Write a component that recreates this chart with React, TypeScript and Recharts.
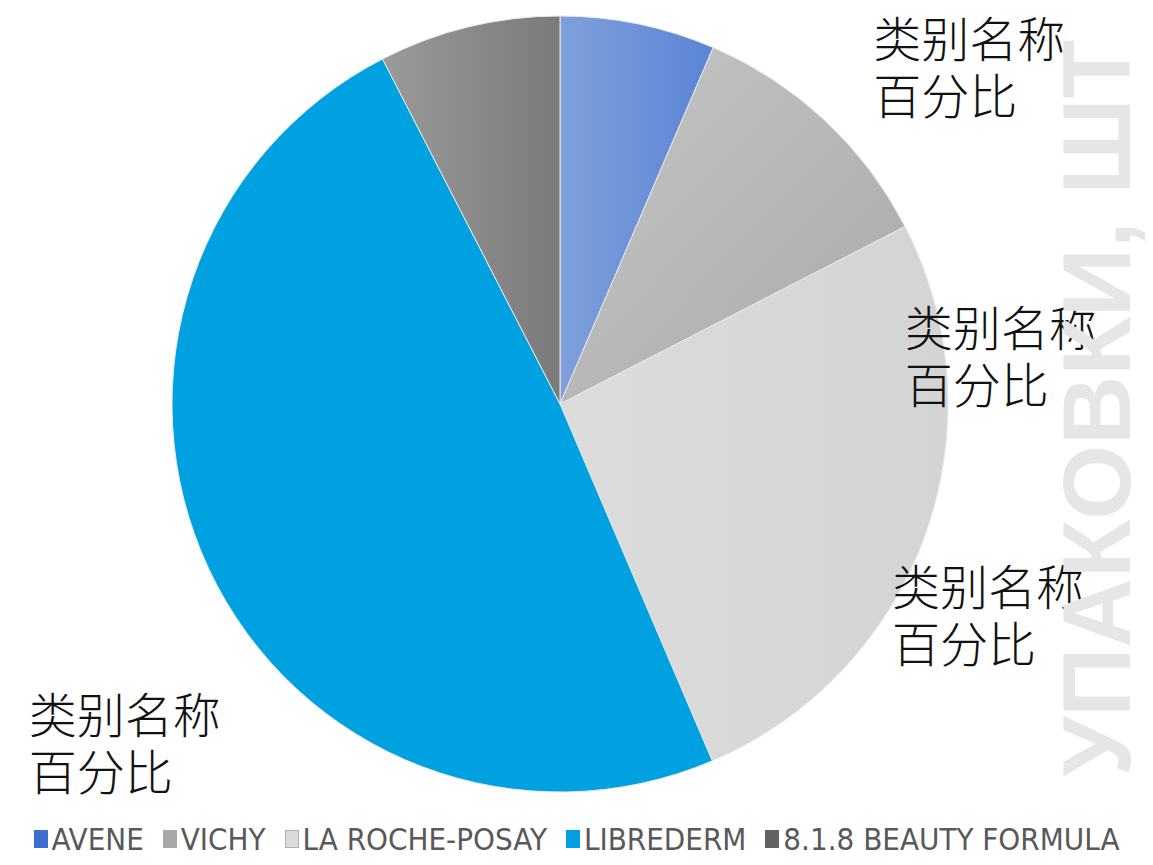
import React from "react";
import { PieChart, Pie, Cell, Legend } from "recharts";

const categories = ["AVENE", "VICHY", "LA ROCHE-POSAY", "LIBREDERM", "8.1.8 BEAUTY FORMULA"];
const shares = [6.46, 10.98, 26.14, 48.86, 7.56];
const labelLine1 = "类别名称";
const labelLine2 = "百分比";
const watermark = "УПАКОВКИ, ШТ";

const legendColors = ["#3d6fd2", "#a8a8a8", "#dadada", "#00a0e0", "#626262"];
const gradStops: [string, string][] = [
  ["#7fa0dc", "#5b84d6"],
  ["#c6c6c6", "#a9a9a9"],
  ["#dcdcdc", "#d4d4d4"],
  ["#00a1e0", "#00a1e0"],
  ["#9a9a9a", "#7a7a7a"],
];
// label placement offsets relative to the slice's outer-arc midpoint
const labelOffsets: ([number, number] | null)[] = [
  [235, 12],
  [80, 205],
  [-33, 48],
  [-180, 143],
  null,
];

const data = categories.map((name, i) => ({ name, value: shares[i] }));

const RAD = Math.PI / 180;

const renderLabel = (props: any) => {
  const { cx, cy, midAngle, outerRadius, index } = props;
  const off = labelOffsets[index];
  if (!off) return null;
  const x0 = cx + outerRadius * Math.cos(-midAngle * RAD);
  const y0 = cy + outerRadius * Math.sin(-midAngle * RAD);
  const x = x0 + off[0];
  const y = y0 + off[1];
  return (
    <text
      x={x}
      y={y}
      fill="#111"
      fontSize={48}
      fontFamily="'Noto Sans CJK SC', sans-serif"
      fontWeight={300}
      textAnchor="start"
      dominantBaseline="central"
    >
      <tspan x={x} dy={0}>{labelLine1}</tspan>
      <tspan x={x} dy={57}>{labelLine2}</tspan>
    </text>
  );
};

const renderLegend = () => (
  <div
    style={{
      display: "flex",
      justifyContent: "center",
      alignItems: "center",
      gap: 19,
      fontFamily: "'DejaVu Sans Condensed', sans-serif",
      fontSize: 31,
      color: "#595959",
      whiteSpace: "nowrap",
    }}
  >
    {categories.map((c, i) => (
      <div key={c} style={{ display: "flex", alignItems: "center" }}>
        <span
          style={{
            display: "inline-block",
            width: 14,
            height: 18,
            background: legendColors[i],
            border: i === 2 ? "1px solid #b0b0b0" : "none",
            boxSizing: "border-box",
            marginRight: 4,
          }}
        />
        <span>{c}</span>
      </div>
    ))}
  </div>
);

export default function App() {
  return (
    <div style={{ position: "absolute", left: 0, top: 0, width: 1153, height: 865, background: "#fff" }}>
      <PieChart width={1153} height={865} margin={{ top: 0, right: 0, bottom: 0, left: 0 }}>
        <defs>
          {gradStops.map((g, i) => (
            <linearGradient key={i} id={`g${i}`} x1="0" y1="0" x2="1" y2={i === 1 ? "1" : "0"}>
              <stop offset="0%" stopColor={g[0]} />
              <stop offset="100%" stopColor={g[1]} />
            </linearGradient>
          ))}
        </defs>
        <Pie
          data={data}
          dataKey="value"
          nameKey="name"
          cx={560}
          cy={404}
          outerRadius={388}
          startAngle={90}
          endAngle={-270}
          stroke="#e9e9e9"
          strokeWidth={1}
          label={renderLabel}
          labelLine={false}
          isAnimationActive={false}
        >
          {data.map((d, i) => (
            <Cell key={d.name} fill={`url(#g${i})`} />
          ))}
        </Pie>
        <Legend
          content={renderLegend}
          wrapperStyle={{ position: "absolute", left: 0, top: 821, width: 1153 }}
        />
      </PieChart>
      <svg
        width={1153}
        height={865}
        style={{ position: "absolute", left: 0, top: 0, pointerEvents: "none" }}
      >
        <text
          x={1096}
          y={408}
          transform="rotate(-90 1096 408)"
          textAnchor="middle"
          dominantBaseline="central"
          fontFamily="'Liberation Sans', Arial, sans-serif"
          fontWeight={700}
          fontSize={96}
          fill="#e6e6e6"
        >
          {watermark}
        </text>
      </svg>
    </div>
  );
}
